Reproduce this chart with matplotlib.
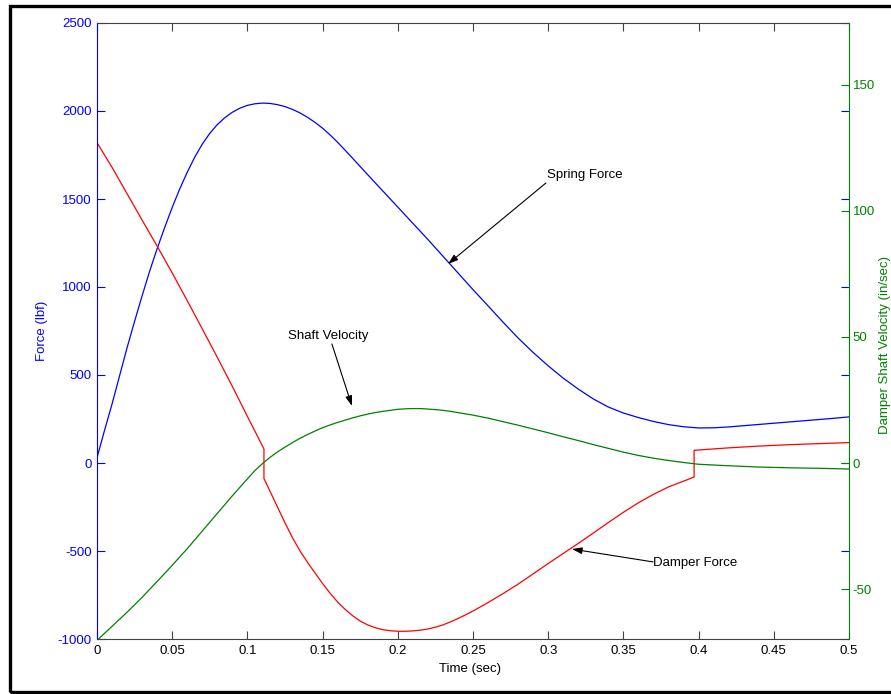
import matplotlib
matplotlib.use("Agg")
import matplotlib.pyplot as plt
from matplotlib.patches import Rectangle

plt.rcParams['font.family'] = ['Liberation Sans', 'DejaVu Sans']
plt.rcParams['axes.unicode_minus'] = False

# Spring force (lbf), blue, left axis
t_spring = [0, 0.005, 0.01, 0.015, 0.02, 0.025, 0.03, 0.035, 0.04, 0.045, 0.05, 0.055,
            0.06, 0.065, 0.07, 0.075, 0.08, 0.085, 0.09, 0.095, 0.10, 0.105, 0.11,
            0.115, 0.12, 0.125, 0.13, 0.135, 0.14, 0.145, 0.15, 0.155, 0.16, 0.165,
            0.17, 0.18, 0.19, 0.20, 0.21, 0.22, 0.23, 0.24, 0.25, 0.26, 0.27, 0.28,
            0.29, 0.30, 0.31, 0.32, 0.33, 0.34, 0.35, 0.36, 0.37, 0.38, 0.39, 0.40,
            0.41, 0.42, 0.43, 0.44, 0.45, 0.46, 0.47, 0.48, 0.49, 0.50]
f_spring = [30, 185, 335, 495, 655, 805, 950, 1090, 1218, 1338, 1452, 1557,
            1652, 1738, 1812, 1873, 1923, 1962, 1993, 2016, 2032, 2041, 2045,
            2043, 2036, 2025, 2009, 1989, 1964, 1935, 1902, 1864, 1822, 1777,
            1731, 1638, 1546, 1454, 1362, 1270, 1175, 1080, 985, 893, 800, 710,
            628, 552, 482, 420, 364, 318, 284, 258, 236, 218, 206, 199,
            200, 205, 212, 219, 226, 233, 240, 247, 254, 262]

# Damper force (lbf), red, left axis
t_damper = [0, 0, 0.01, 0.02, 0.03, 0.04, 0.05, 0.06, 0.07, 0.08, 0.09, 0.10, 0.111,
            0.111, 0.115, 0.12, 0.125, 0.13, 0.135, 0.14, 0.145, 0.15, 0.155, 0.16,
            0.165, 0.17, 0.175, 0.18, 0.185, 0.19, 0.195, 0.20, 0.205, 0.21, 0.215,
            0.22, 0.225, 0.23, 0.235, 0.24, 0.245, 0.25, 0.26, 0.27, 0.28, 0.29,
            0.30, 0.31, 0.32, 0.33, 0.34, 0.35, 0.36, 0.37, 0.38, 0.39, 0.397,
            0.397, 0.41, 0.42, 0.43, 0.44, 0.45, 0.46, 0.47, 0.48, 0.49, 0.50]
f_damper = [0, 1820, 1680, 1530, 1380, 1232, 1080, 922, 762, 600, 435, 265, 80,
            -88, -160, -250, -340, -425, -500, -565, -625, -685, -740, -790,
            -832, -868, -898, -920, -936, -947, -953, -956, -956, -954, -950,
            -943, -933, -920, -903, -884, -863, -841, -793, -742, -688, -630,
            -571, -514, -457, -398, -338, -280, -226, -178, -136, -103, -80,
            72, 80, 86, 91, 96, 100, 104, 107, 110, 113, 116]

# Damper shaft velocity (in/sec), green, right axis
t_vel = [0, 0.01, 0.02, 0.03, 0.04, 0.05, 0.06, 0.07, 0.08, 0.09, 0.10, 0.105, 0.111,
         0.115, 0.12, 0.125, 0.13, 0.135, 0.14, 0.145, 0.15, 0.155, 0.16, 0.165,
         0.17, 0.175, 0.18, 0.185, 0.19, 0.195, 0.20, 0.205, 0.21, 0.215, 0.22,
         0.225, 0.23, 0.235, 0.24, 0.25, 0.26, 0.27, 0.28, 0.29, 0.30, 0.31, 0.32,
         0.33, 0.34, 0.35, 0.36, 0.37, 0.38, 0.39, 0.40, 0.42, 0.44, 0.46, 0.48, 0.50]
v_shaft = [-70.4, -64.8, -59.2, -53.3, -47.0, -40.6, -34.0, -27.0, -20.0, -13.0, -6.3, -3.0, 0.3,
           2.2, 4.4, 6.3, 8.1, 9.8, 11.3, 12.7, 14.0, 15.1, 16.1, 17.0,
           17.9, 18.7, 19.4, 20.0, 20.5, 20.9, 21.3, 21.5, 21.6, 21.6, 21.4,
           21.2, 20.9, 20.5, 20.0, 19.0, 17.8, 16.4, 15.0, 13.5, 12.0, 10.4, 8.9,
           7.3, 5.8, 4.3, 3.0, 1.9, 1.0, 0.2, -0.5, -1.1, -1.6, -1.9, -2.1, -2.4]

x_ticks = [0, 0.05, 0.1, 0.15, 0.2, 0.25, 0.3, 0.35, 0.4, 0.45, 0.5]
x_labels = ['0', '0.05', '0.1', '0.15', '0.2', '0.25', '0.3', '0.35', '0.4', '0.45', '0.5']
force_ticks = [-1000, -500, 0, 500, 1000, 1500, 2000, 2500]
vel_ticks = [-50, 0, 50, 100, 150]

BLUE = '#0000ff'
RED = '#ff0000'
GREEN = '#008000'
GRAY = '#404040'
FS = 9.5

fig = plt.figure(figsize=(8.91, 6.94), dpi=100)
ax1 = fig.add_axes([97 / 891, 55 / 694, 752 / 891, 616 / 694])
ax2 = ax1.twinx()

ax1.plot(t_spring, f_spring, color=BLUE, lw=0.9)
ax1.plot(t_damper, f_damper, color=RED, lw=0.9)
ax2.plot(t_vel, v_shaft, color=GREEN, lw=0.9)

ax1.set_xlim(0, 0.5)
ax1.set_ylim(-1000, 2500)
ax2.set_ylim(-69.84, 174.6)

ax1.set_xticks(x_ticks)
ax1.set_xticklabels(x_labels)
ax1.set_yticks(force_ticks)
ax2.set_yticks(vel_ticks)

ax1.tick_params(axis='x', direction='in', length=6, width=0.8, color=GRAY,
                top=True, labelsize=FS, pad=4.5, labelcolor='black')
ax1.tick_params(axis='y', direction='in', length=6, width=0.8, color=BLUE,
                right=True, labelsize=FS, pad=3.6, labelcolor=BLUE)
ax2.tick_params(axis='y', direction='in', length=6, width=0.8, color=GREEN,
                labelsize=FS, pad=2.5, labelcolor=GREEN)

for s in ['top', 'bottom']:
    ax1.spines[s].set_color(GRAY)
    ax1.spines[s].set_linewidth(0.8)
ax1.spines['left'].set_color(BLUE)
ax1.spines['left'].set_linewidth(0.8)
ax1.spines['right'].set_visible(False)
for s in ['top', 'bottom', 'left']:
    ax2.spines[s].set_visible(False)
ax2.spines['right'].set_color(GREEN)
ax2.spines['right'].set_linewidth(0.8)

# axis labels
fig.text(470 / 891, 1 - 669 / 694, 'Time (sec)', ha='center', va='center', fontsize=FS)
fig.text(42 / 891, 1 - 331 / 694, 'Force (lbf)', ha='center', va='center',
         rotation=90, color=BLUE, fontsize=FS)
fig.text(885 / 891, 1 - 345 / 694, 'Damper Shaft Velocity (in/sec)', ha='center',
         va='center', rotation=90, color=GREEN, fontsize=FS)

# annotations (data coords on the force axis)
arrow = dict(arrowstyle='-|>,head_length=0.6,head_width=0.2', color='black',
             lw=0.8, shrinkA=0, shrinkB=0)
ax1.text(0.2995, 1636, 'Spring Force', ha='left', va='center', fontsize=FS)
ax1.annotate('', xy=(0.2334, 1131), xytext=(0.2985, 1591), arrowprops=arrow)
ax1.text(0.127, 722, 'Shaft Velocity', ha='left', va='center', fontsize=FS)
ax1.annotate('', xy=(0.1695, 324), xytext=(0.1562, 676), arrowprops=arrow)
ax1.text(0.3700, -568, 'Damper Force', ha='left', va='center', fontsize=FS)
ax1.annotate('', xy=(0.3158, -489), xytext=(0.3697, -562), arrowprops=arrow)

# black frame around the figure (right edge falls outside the picture)
fig.patches.append(Rectangle((9.5 / 891, 2.5 / 694), 1.1, 1 - 8.5 / 694,
                             transform=fig.transFigure, fill=False,
                             edgecolor='black', lw=2.4, zorder=10))

fig.savefig('out.png', dpi=100)
